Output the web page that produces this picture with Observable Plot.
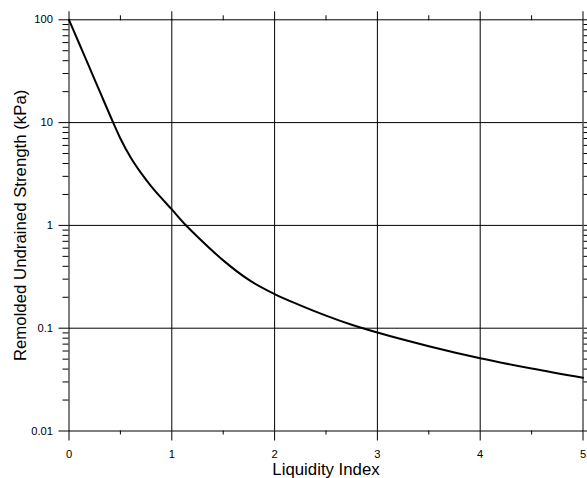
<!DOCTYPE html>
<html>
<head>
<meta charset="utf-8">
<script src="https://cdn.jsdelivr.net/npm/d3@7"></script>
<script src="https://cdn.jsdelivr.net/npm/@observablehq/plot@0.6"></script>
<style>
  html, body { margin: 0; padding: 0; background: #fff; }
</style>
</head>
<body>
<div id="chart"></div>
<script>
// Liquidity index (x) and remolded undrained strength in kPa (y)
const liquidityIndex = [0, 0.1, 0.2, 0.3, 0.43, 0.5, 0.6, 0.7, 0.8, 0.9, 1.0, 1.13, 1.25, 1.5, 1.75, 2.0, 2.25, 2.5, 2.75, 3.0, 3.5, 4.0, 4.5, 5.0];
const strengthKPa   = [100, 58.5, 34.2, 20.0, 10.0, 7.01, 4.58, 3.24, 2.40, 1.84, 1.43, 1.02, 0.776, 0.457, 0.295, 0.215, 0.167, 0.1326, 0.108, 0.0907, 0.0668, 0.0510, 0.0405, 0.0329];

const xTicks = [0, 1, 2, 3, 4, 5];
const xTickLabels = ["0", "1", "2", "3", "4", "5"];
const xMinorTicks = [0.5, 1.5, 2.5, 3.5, 4.5];
const yTicks = [0.01, 0.1, 1, 10, 100];
const yTickLabels = ["0.01", "0.1", "1", "10", "100"];
const yMinorTicks = [0.02,0.03,0.04,0.05,0.06,0.07,0.08,0.09,
                     0.2,0.3,0.4,0.5,0.6,0.7,0.8,0.9,
                     2,3,4,5,6,7,8,9,
                     20,30,40,50,60,70,80,90];
const xGrid = [1, 2, 3, 4];
const yGrid = [0.1, 1, 10];
const xTitle = "Liquidity Index";
const yTitle = "Remolded Undrained Strength (kPa)";

const data = liquidityIndex.map((d, i) => ({il: d, su: strengthKPa[i]}));
const blank = () => "";

const chart = Plot.plot({
  width: 587,
  height: 478,
  marginLeft: 68.5,
  marginRight: 4.5,
  marginTop: 19.3,
  marginBottom: 47.5,
  x: {domain: [0, 5]},
  y: {type: "log", domain: [0.01, 100]},
  style: {fontFamily: "'Liberation Sans', Arial, sans-serif", fontSize: "11px", color: "black", background: "white"},
  marks: [
    Plot.gridX(xGrid, {stroke: "black", strokeOpacity: 1}),
    Plot.gridY(yGrid, {stroke: "black", strokeOpacity: 1}),
    Plot.frame({stroke: "black"}),
    Plot.axisX(xTicks, {anchor: "bottom", tickSize: 10, tickPadding: 9, label: null, fontSize: 11.2,
      tickFormat: d => xTickLabels[xTicks.indexOf(d)]}),
    Plot.axisX(xMinorTicks, {anchor: "bottom", tickSize: 4, label: null, tickFormat: blank}),
    Plot.axisX(xTicks, {anchor: "top", tickSize: 9, label: null, tickFormat: blank}),
    Plot.axisX(xMinorTicks, {anchor: "top", tickSize: 5, label: null, tickFormat: blank}),
    Plot.axisY(yTicks, {anchor: "left", tickSize: 10, tickPadding: 6, label: null, fontSize: 11.2,
      tickFormat: d => yTickLabels[yTicks.indexOf(d)]}),
    Plot.axisY(yMinorTicks, {anchor: "left", tickSize: 6, label: null, tickFormat: blank}),
    Plot.axisY(yTicks, {anchor: "right", tickSize: 5, label: null, tickFormat: blank}),
    Plot.axisY(yMinorTicks, {anchor: "right", tickSize: 4, label: null, tickFormat: blank}),
    Plot.line(data, {x: "il", y: "su", stroke: "black", strokeWidth: 2, curve: "monotone-x"}),
    Plot.text([xTitle], {frameAnchor: "bottom", dy: 39, textAnchor: "middle", lineAnchor: "middle", fontSize: 16.8, fill: "black"}),
    Plot.text([yTitle], {frameAnchor: "left", dx: -48, rotate: -90, textAnchor: "middle", lineAnchor: "middle", fontSize: 16.8, fill: "black"})
  ]
});
document.getElementById("chart").appendChild(chart);
</script>
</body>
</html>
